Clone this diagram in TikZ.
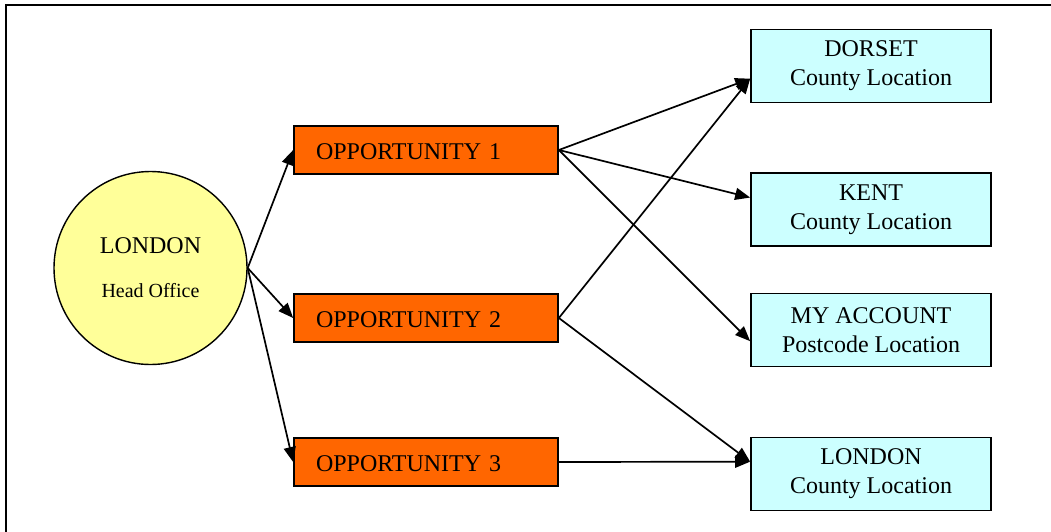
\documentclass[tikz,border=0pt]{standalone}
\usepackage{fontspec}
\setmainfont{Liberation Serif}
\usetikzlibrary{arrows.meta,calc}
\definecolor{opporange}{HTML}{FF6600}
\definecolor{loccyan}{HTML}{CCFFFF}
\definecolor{headyellow}{HTML}{FFFF99}
\tikzset{
  oppbox/.style={draw=black, line width=1.7pt, fill=opporange, minimum width=264pt, minimum height=48pt,
    text width=220pt, inner xsep=22pt, inner ysep=0pt, text height=19.5pt, text depth=0pt, align=left,
    font=\fontsize{24}{28}\selectfont},
  locbox/.style={draw=black, line width=1.7pt, fill=loccyan, minimum width=240pt, minimum height=73pt,
    align=center, inner sep=0pt, font=\fontsize{24}{29}\selectfont},
  headnode/.style={circle, draw=black, line width=1.4pt, fill=headyellow, minimum size=193pt, inner sep=0pt,
    align=center, font=\fontsize{24}{28}\selectfont},
  conn/.style={line width=1.7pt, -{Triangle[length=15pt,width=12pt]}}
}
\begin{document}
\begin{tikzpicture}[x=1pt,y=-1pt]
\useasboundingbox (0,0) rectangle (1051,532);
\draw[line width=1.8pt] (6,532) -- (6,5) -- (1051,5);
\node[headnode] (head) at (150.5,268) {LONDON\\[16pt]{\fontsize{20}{24}\selectfont Head Office}};
\node[oppbox] (o1) at (426,150) {OPPORTUNITY 1};
\node[oppbox] (o2) at (426,318) {OPPORTUNITY 2};
\node[oppbox] (o3) at (426,462) {OPPORTUNITY 3};
\node[locbox] (dorset) at (871,66) {DORSET\\County Location};
\node[locbox] (kent) at (871,209.5) {KENT\\County Location};
\node[locbox] (myacc) at (871,330) {MY ACCOUNT\\Postcode Location};
\node[locbox] (london) at (871,474) {LONDON\\County Location};
\coordinate (dorsetin) at ($(dorset.south west)!0.33!(dorset.north west)$);
\coordinate (kentin) at ($(kent.south west)!0.66!(kent.north west)$);
\coordinate (myaccin) at ($(myacc.south west)!0.35!(myacc.north west)$);
\coordinate (londonin) at ($(london.south west)!0.665!(london.north west)$);
\draw[conn] (head.east) -- (o1.west);
\draw[conn] (head.east) -- (o2.west);
\draw[conn] (head.east) -- (o3.west);
\draw[conn] (o1.east) -- (dorsetin);
\draw[conn] (o1.east) -- (kentin);
\draw[conn] (o1.east) -- (myaccin);
\draw[conn] (o2.east) -- (dorsetin);
\draw[conn] (o2.east) -- (londonin);
\draw[conn] (o3.east) -- (londonin);
\end{tikzpicture}
\end{document}
